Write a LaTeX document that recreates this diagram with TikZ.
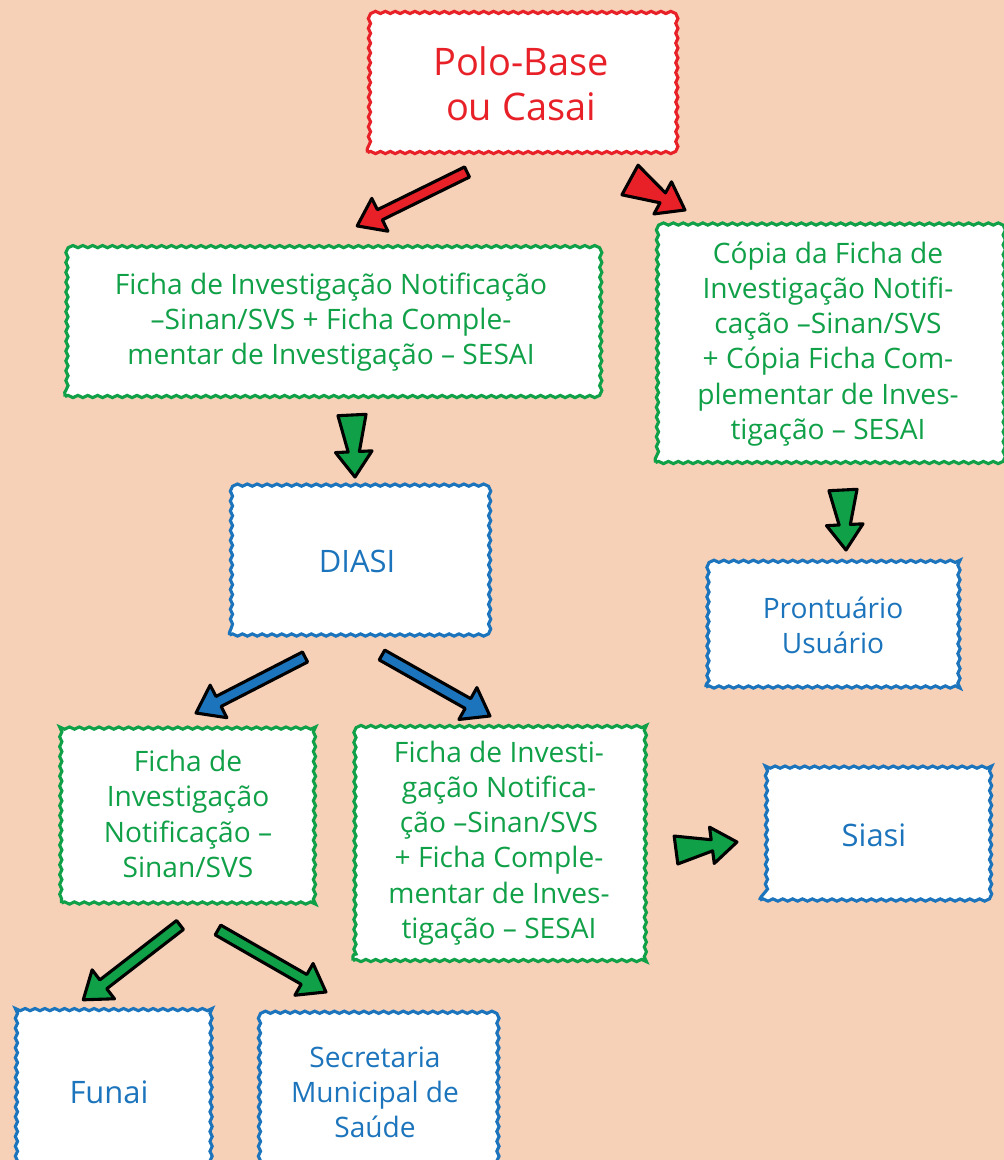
\documentclass[tikz,border=0pt]{standalone}
\usepackage{fontspec}
\setmainfont{Open Sans}
\usetikzlibrary{decorations.pathmorphing,calc}

\definecolor{bgpeach}{RGB}{246,208,183}
\definecolor{boxred}{RGB}{232,32,40}
\definecolor{boxgreen}{RGB}{16,160,72}
\definecolor{boxblue}{RGB}{28,117,188}

\tikzset{
  wobbly/.style={decorate, decoration={snake, amplitude=0.8pt, segment length=7pt}},
  flowbox/.style={wobbly, draw=#1, text=#1, fill=white, line width=2.2pt, align=center, inner sep=0pt},
  boxsize/.style 2 args={minimum width=#1*0.025cm, minimum height=#2*0.025cm},
  fatline/.style={draw=black, line width=2.2pt, line join=round, fill=#1}
}

% fat outlined arrow: colour, tail half width, from, to
\newcommand{\fatarrow}[4]{%
  \path[fatline=#1] let \p1=(#3), \p2=(#4), \n1={atan2(\y2-\y1,\x2-\x1)}, \n2={veclen(\x2-\x1,\y2-\y1)} in
    [shift={(\p1)}, rotate=\n1]
    (0pt,-#2) -- ({\n2-18pt},-4pt) -- ({\n2-18pt},-13pt) -- (\n2,0pt)
    -- ({\n2-18pt},13pt) -- ({\n2-18pt},4pt) -- (0pt,#2) -- cycle;
}

\begin{document}
\begin{tikzpicture}[x=0.025cm, y=-0.025cm]

  \fill[bgpeach] (0,0) rectangle (1004,1160);
  \clip (0,0) rectangle (1004,1160);

  % boxes
  \node[flowbox=boxred, boxsize={307}{137}, font=\fontsize{27}{32}\selectfont] (polo) at (521,84) {Polo-Base\\ou Casai};

  \node[flowbox=boxgreen, boxsize={532}{149}, font=\fontsize{20}{25}\selectfont] (fichaA) at (331,322) {Ficha de Investigação Notificação\\–Sinan/SVS + Ficha Comple-\\mentar de Investigação – SESAI};
  \node[flowbox=boxgreen, boxsize={345}{237}, font=\fontsize{20}{25}\selectfont] (copia) at (828,344) {Cópia da Ficha de\\Investigação Notifi-\\cação –Sinan/SVS\\+ Cópia Ficha Com-\\plementar de Inves-\\tigação – SESAI};

  \node[flowbox=boxblue, boxsize={255}{148}, font=\fontsize{22}{26}\selectfont] (diasi) at (357,561) {DIASI};
  \node[flowbox=boxblue, boxsize={254}{124}, font=\fontsize{20}{25}\selectfont] (prontuario) at (833,625) {Prontuário\\Usuário};

  \node[flowbox=boxgreen, boxsize={253}{178}, font=\fontsize{20}{25}\selectfont] (fichaB) at (188,814) {Ficha de\\Investigação\\Notificação –\\Sinan/SVS};
  \node[flowbox=boxgreen, boxsize={292}{235}, font=\fontsize{20}{25}\selectfont] (fichaC) at (499,843) {Ficha de Investi-\\gação Notifica-\\ção –Sinan/SVS\\+ Ficha Comple-\\mentar de Inves-\\tigação – SESAI};
  \node[flowbox=boxblue, boxsize={228}{130}, font=\fontsize{22}{26}\selectfont] (siasi) at (874,835) {Siasi};

  \node[flowbox=boxblue, boxsize={198}{160}, font=\fontsize{22}{26}\selectfont] (funai) at (109,1092) {Funai};
  \node[flowbox=boxblue, boxsize={235}{160}, font=\fontsize{20}{25}\selectfont] (secretaria) at (375,1092) {Secretaria\\Municipal de\\Saúde};

  % arrow ends
  \coordinate (r1s) at (467,172);  \coordinate (r1e) at (357,226);
  \coordinate (r2s) at (630,180);  \coordinate (r2e) at (685,210);
  \coordinate (g1s) at (352,415);  \coordinate (g1e) at (355,477);
  \coordinate (g2s) at (843,490);  \coordinate (g2e) at (846,550);
  \coordinate (b1s) at (305,657);  \coordinate (b1e) at (196,713);
  \coordinate (b2s) at (382,655);  \coordinate (b2e) at (490,716);
  \coordinate (g3s) at (676,850);  \coordinate (g3e) at (737,842);
  \coordinate (g4s) at (180,925);  \coordinate (g4e) at (83,1000);
  \coordinate (g5s) at (218,930);  \coordinate (g5e) at (326,992);

  \fatarrow{boxred}{4pt}{r1s}{r1e}
  \fatarrow{boxred}{12pt}{r2s}{r2e}
  \fatarrow{boxgreen}{10pt}{g1s}{g1e}
  \fatarrow{boxgreen}{10pt}{g2s}{g2e}
  \fatarrow{boxblue}{4pt}{b1s}{b1e}
  \fatarrow{boxblue}{4pt}{b2s}{b2e}
  \fatarrow{boxgreen}{10pt}{g3s}{g3e}
  \fatarrow{boxgreen}{4pt}{g4s}{g4e}
  \fatarrow{boxgreen}{4pt}{g5s}{g5e}

\end{tikzpicture}
\end{document}
